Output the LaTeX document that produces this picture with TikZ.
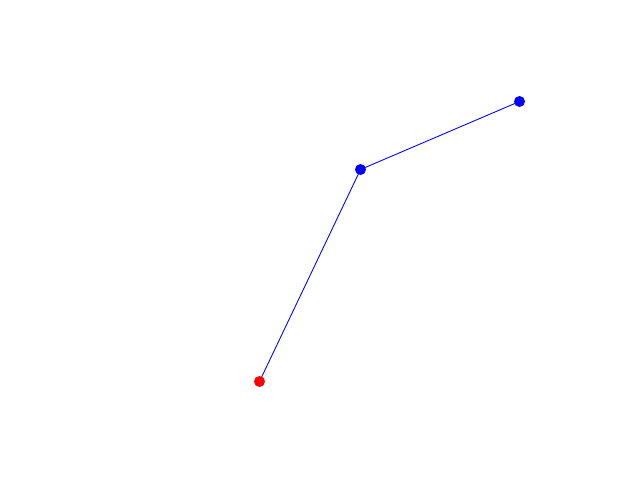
\documentclass[tikz,border=0pt]{standalone}
\usepackage{tikz}

\begin{document}
\begin{tikzpicture}[x=0.01cm,y=-0.01cm,
  pathline/.style={draw=blue,line width=0.25pt},
  dotnode/.style={circle,inner sep=0pt,minimum size=0.11cm}]
  \useasboundingbox (0,0) rectangle (640,480);
  \coordinate (p1) at (259.5,381.5);
  \coordinate (p2) at (360.5,169.5);
  \coordinate (p3) at (519.5,101.5);
  \draw[pathline] (p1) -- (p2) -- (p3);
  \node[dotnode,fill=red] (start) at (p1) {};
  \node[dotnode,fill=blue] (mid) at (p2) {};
  \node[dotnode,fill=blue] (stop) at (p3) {};
\end{tikzpicture}
\end{document}
